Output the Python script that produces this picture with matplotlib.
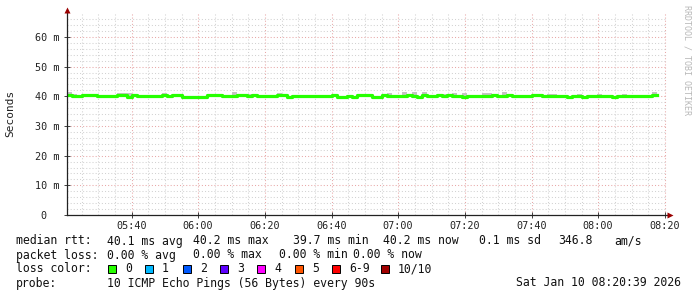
import matplotlib
matplotlib.use("Agg")
import matplotlib.pyplot as plt
import matplotlib.dates as mdates
from matplotlib.patches import Rectangle
from matplotlib.lines import Line2D
import numpy as np
import pandas as pd

# median rtt per 90s step (ms)
median_ms = [
    40.4, 40.2, 40.1, 40.4, 40.4, 40.4, 40.1, 40.1, 40.1, 40.1,
    40.3, 40.3, 39.9, 40.4, 40.1, 40.1, 40.1, 40.1, 40.1, 40.4,
    40.1, 40.3, 40.3, 39.9, 39.9, 39.9, 39.9, 39.9, 40.3, 40.3,
    40.3, 40.1, 40.1, 40.1, 40.3, 40.3, 40.1, 40.3, 40.1, 40.1,
    40.1, 40.1, 40.3, 40.3, 39.9, 40.1, 40.1, 40.1, 40.1, 40.1,
    40.1, 40.1, 40.1, 40.3, 39.9, 39.9, 40.0, 39.9, 40.4, 40.3,
    40.3, 39.8, 39.9, 40.3, 40.1, 40.1, 40.1, 40.1, 40.4, 40.2,
    39.8, 40.3, 40.1, 40.1, 40.3, 40.1, 40.3, 40.1, 40.1, 39.8,
    40.2, 40.1, 40.1, 40.1, 40.1, 40.3, 40.1, 40.1, 40.3, 40.1,
    40.1, 40.1, 40.1, 40.3, 40.3, 40.1, 40.1, 40.1, 40.1, 40.1,
    39.8, 40.1, 40.1, 39.8, 40.1, 40.1, 40.1, 40.1, 40.1, 39.8,
    40.1, 40.1, 40.1, 40.1, 40.0, 40.0, 40.1, 40.4,
]
# top of the smoke (slowest ping) per step (ms)
smoke_hi_ms = [
    41.4, 40.8, 40.4, 40.7, 40.7, 40.7, 40.4, 40.4, 40.4, 40.4,
    41.0, 41.1, 41.0, 40.7, 40.4, 40.4, 40.4, 40.4, 40.4, 41.1,
    40.4, 40.8, 40.6, 40.2, 40.2, 40.2, 40.2, 40.2, 40.6, 40.6,
    40.6, 40.4, 40.4, 41.4, 40.6, 40.6, 40.8, 40.6, 40.4, 40.4,
    40.4, 40.4, 41.0, 40.9, 40.2, 40.4, 40.4, 40.4, 40.4, 40.4,
    40.4, 40.4, 40.4, 40.6, 40.2, 40.2, 40.3, 40.2, 40.7, 40.6,
    40.6, 40.1, 40.2, 40.6, 41.0, 40.4, 40.4, 41.3, 40.7, 41.5,
    40.1, 41.3, 40.4, 40.4, 40.6, 40.8, 40.6, 41.0, 40.4, 41.2,
    40.5, 40.4, 40.4, 41.0, 41.0, 40.6, 40.4, 41.6, 40.6, 40.4,
    40.4, 40.4, 40.4, 40.6, 40.6, 40.4, 40.7, 40.7, 40.4, 40.4,
    40.1, 40.4, 40.7, 40.1, 40.4, 40.4, 40.7, 40.4, 40.4, 40.1,
    40.4, 40.7, 40.4, 40.4, 40.3, 40.3, 40.4, 41.3,
]

start = "2026-01-10 05:20:39"
end = "2026-01-10 08:20:39"
y_ticks = [0, 10, 20, 30, 40, 50, 60]
y_tick_labels = ["0  ", "10 m", "20 m", "30 m", "40 m", "50 m", "60 m"]

loss_labels = ["0", "1", "2", "3", "4", "5", "6-9", "10/10"]
loss_colors = ["#26ff00", "#00b8ff", "#0059ff", "#5e00ff",
               "#ff00ff", "#ff5500", "#ff0000", "#a10000"]

W, H = 697, 297
MONO = "DejaVu Sans Mono"


def fx(px):
    return px / W


def fy(py):
    return 1 - py / H


fig = plt.figure(figsize=(W / 100, H / 100), dpi=100, facecolor="white")
ax = fig.add_axes([fx(67), fy(215), fx(667) - fx(67), fy(12) - fy(215)])

times = pd.date_range(start, periods=len(median_ms) + 1, freq="90s")
med = np.append(median_ms, median_ms[-1])
hi = np.append(smoke_hi_ms, smoke_hi_ms[-1])

ax.fill_between(times, med, hi, step="post", color="#c4c4c4", lw=0, zorder=3)
ax.step(times, med, where="post", color="#26ff00", lw=2.3, zorder=4)

ax.set_xlim(pd.Timestamp(start), pd.Timestamp(end))
ax.set_ylim(0, 68.4)

ax.xaxis.set_major_locator(mdates.MinuteLocator(byminute=[0, 20, 40]))
ax.xaxis.set_minor_locator(mdates.MinuteLocator(byminute=range(0, 60, 5)))
ax.xaxis.set_major_formatter(mdates.DateFormatter("%H:%M"))
ax.set_yticks(y_ticks)
ax.set_yticklabels(y_tick_labels)
ax.set_yticks(np.arange(0, 68, 2), minor=True)

ax.grid(which="minor", color="#d2d2d2", lw=0.75, ls=(0, (1, 2)), zorder=1)
ax.grid(which="major", color="#e8a8a8", lw=0.75, ls=(0, (1, 2)), zorder=2)

for s in ["top", "right", "left", "bottom"]:
    ax.spines[s].set_visible(False)

ax.tick_params(which="both", direction="inout", color="#404040", width=0.7)
ax.tick_params(which="major", length=4)
ax.tick_params(which="minor", length=0)
ax.tick_params(axis="y", pad=3.5, labelsize=7.3, labelcolor="#222222")
ax.tick_params(axis="x", pad=2.5, labelsize=7.3, labelcolor="#222222")
for lab in ax.get_xticklabels() + ax.get_yticklabels():
    lab.set_fontfamily(MONO)

# axis lines with arrows
fig.add_artist(Line2D([fx(67), fx(667)], [fy(215), fy(215)], color="#222222", lw=0.9))
fig.add_artist(Line2D([fx(67), fx(67)], [fy(215), fy(12)], color="#222222", lw=0.9))
fig.add_artist(Line2D([fx(670)], [fy(215)], marker=">", ms=4.5, color="#9a0000", mec="none"))
fig.add_artist(Line2D([fx(67)], [fy(10)], marker="^", ms=4.5, color="#9a0000", mec="none"))

fig.text(fx(10), fy(113), "Seconds", rotation=90, ha="center", va="center",
         family=MONO, fontsize=8, color="#222222")
fig.text(fx(687), fy(5), "RRDTOOL / TOBI OETIKER", rotation=270, ha="center",
         va="top", family=MONO, fontsize=6, color="#b8b8b8")

# legend block
fs = 8.3
col = "#111111"
rows = [
    (241, [(16, "median rtt:"), (107, "40.1 ms avg"), (193, "40.2 ms max"),
           (293, "39.7 ms min"), (383, "40.2 ms now"), (479, "0.1 ms sd"),
           (558, "346.8"), (614, "am/s")]),
    (255, [(16, "packet loss:"), (107, "0.00 % avg"), (193, "0.00 % max"),
           (279, "0.00 % min"), (353, "0.00 % now")]),
    (269, [(16, "loss color:")]),
    (283, [(16, "probe:"), (107, "10 ICMP Echo Pings (56 Bytes) every 90s")]),
]
for py, items in rows:
    for px, t in items:
        fig.text(fx(px), fy(py), t, ha="left", va="center", family=MONO,
                 fontsize=fs, color=col)
fig.text(fx(681), fy(283), "Sat Jan 10 08:20:39 2026", ha="right", va="center",
         family=MONO, fontsize=fs, color=col)

sq_x = [108, 145, 183, 220, 257, 295, 332, 381]
for x0, lab, c in zip(sq_x, loss_labels, loss_colors):
    fig.add_artist(Rectangle((fx(x0), fy(273)), 8 / W, 8 / H, facecolor=c,
                             edgecolor="black", lw=0.7, transform=fig.transFigure))
    fig.text(fx(x0 + 17), fy(269), lab, ha="left", va="center", family=MONO,
             fontsize=fs, color=col)

fig.savefig("out.png", dpi=100, facecolor="white")
